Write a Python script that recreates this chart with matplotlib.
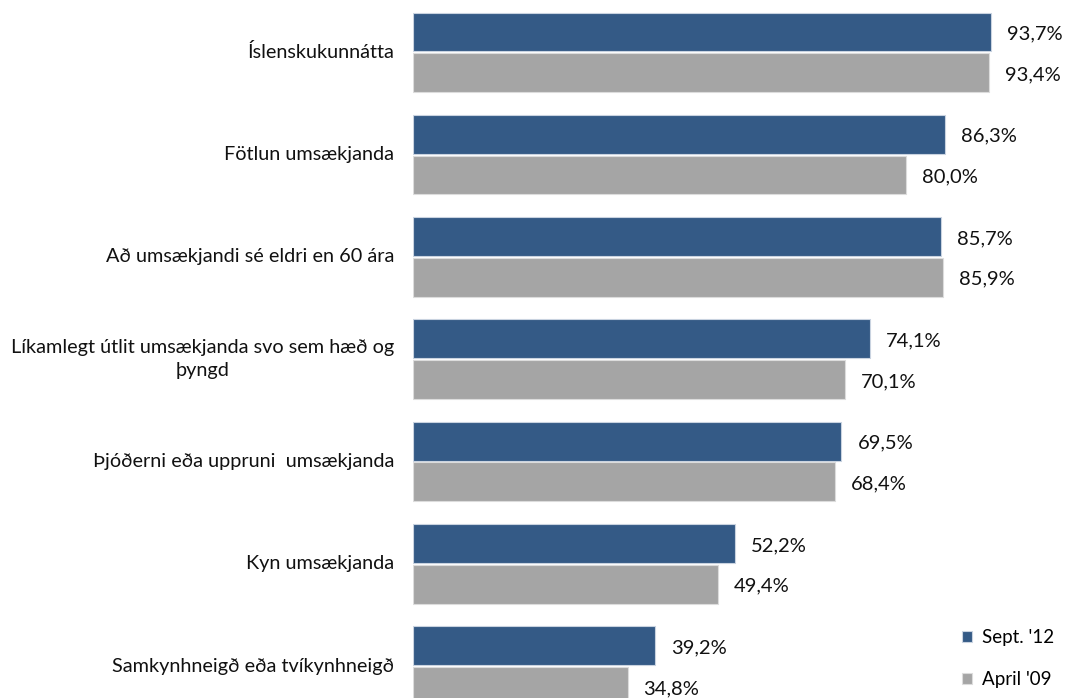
import matplotlib
matplotlib.use("Agg")
import matplotlib.pyplot as plt
import numpy as np

categories = [
    "Íslenskukunnátta",
    "Fötlun umsækjanda",
    "Að umsækjandi sé eldri en 60 ára",
    "Líkamlegt útlit umsækjanda svo sem hæð og\nþyngd",
    "Þjóðerni eða uppruni  umsækjanda",
    "Kyn umsækjanda",
    "Samkynhneigð eða tvíkynhneigð",
]
sept12 = [93.7, 86.3, 85.7, 74.1, 69.5, 52.2, 39.2]
april09 = [93.4, 80.0, 85.9, 70.1, 68.4, 49.4, 34.8]
series_names = ["Sept. '12", "April '09"]
colors = ["#345A86", "#A5A5A5"]

plt.rcParams['font.family'] = ['Lato', 'DejaVu Sans']

W, H = 1066, 698
fig = plt.figure(figsize=(W / 100, H / 100), dpi=100)
left_px = 413
px_per_unit = 6.165
xmax = 100
top_px = 52.35 - 0.5 * 102.3
bot_px = 52.35 + 6.5 * 102.3
ax = fig.add_axes([left_px / W, 1 - bot_px / H, xmax * px_per_unit / W, (bot_px - top_px) / H])

y = np.arange(len(categories))
bh = 0.38
off = 0.199
b1 = ax.barh(y - off, sept12, height=bh, color=colors[0], edgecolor="#c9d3e0", linewidth=0.8, label=series_names[0])
b2 = ax.barh(y + off, april09, height=bh, color=colors[1], edgecolor="#dcdcdc", linewidth=0.8, label=series_names[1])

ax.set_xlim(0, xmax)
ax.set_ylim(6.5, -0.5)
ax.set_yticks([])
ax.set_xticks([])
for s in ax.spines.values():
    s.set_visible(False)

for yi, cat in zip(y, categories):
    ax.annotate(cat, xy=(0, yi), xytext=(-19, 0), textcoords="offset pixels",
                ha="right", va="center", multialignment="center",
                linespacing=1.45, fontsize=14.3, color="#111111",
                annotation_clip=False)

for bars, vals in ((b1, sept12), (b2, april09)):
    for rect, v in zip(bars, vals):
        ax.annotate(f"{v:.1f}%".replace(".", ","),
                    xy=(rect.get_width(), rect.get_y() + rect.get_height() / 2),
                    xytext=(16, -2), textcoords="offset pixels",
                    ha="left", va="center", fontsize=14.5, color="#111111")

fig.legend(handles=[b1, b2], labels=series_names, loc="upper left",
           bbox_to_anchor=(962 / W, 1 - 629 / H), frameon=False, fontsize=13.5,
           handlelength=0.55, handleheight=0.55, handletextpad=0.5,
           labelspacing=1.35, borderaxespad=0, borderpad=0)

fig.savefig("out.png", dpi=100)
